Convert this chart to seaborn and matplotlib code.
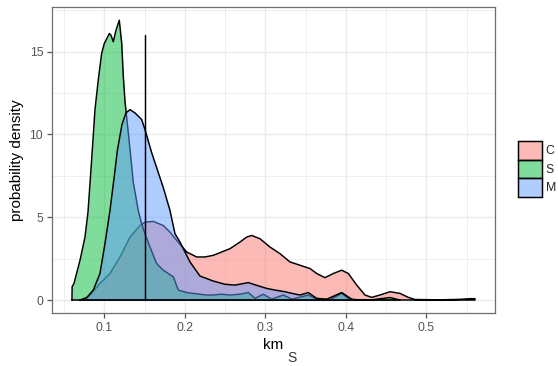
import matplotlib
matplotlib.use("Agg")
import matplotlib.pyplot as plt
from matplotlib.colors import to_rgba
from matplotlib.patches import Patch
import pandas as pd
import seaborn as sns

# Density curves (km vs probability density) per group
groups = ["C", "S", "M"]

c_km = [0.0758, 0.082, 0.0944, 0.1068, 0.1193, 0.1317, 0.1441, 0.1503, 0.1606, 0.173,
        0.1814, 0.1897, 0.2021, 0.2145, 0.2248, 0.2352, 0.2559, 0.2683, 0.2766, 0.2829,
        0.2932, 0.3056, 0.318, 0.3304, 0.3429, 0.3553, 0.3636, 0.3739, 0.3842, 0.3947,
        0.4029, 0.4133, 0.4236, 0.4319, 0.4422, 0.4547, 0.467, 0.4774, 0.4857, 0.5168,
        0.5416, 0.554, 0.5602, 0.5602]
c_density = [0, 0.3, 1.0, 1.6, 2.6, 3.8, 4.5, 4.7, 4.75, 4.5,
             4.1, 3.6, 2.9, 2.6, 2.6, 2.7, 3.1, 3.5, 3.8, 3.9,
             3.7, 3.2, 2.8, 2.3, 2.1, 1.9, 1.6, 1.35, 1.6, 1.8,
             1.6, 0.9, 0.3, 0.16, 0.3, 0.5, 0.4, 0.16, 0.03, 0.01,
             0.04, 0.08, 0.08, 0]

s_km = [0.0596, 0.0598, 0.0621, 0.0696, 0.0758, 0.0795, 0.0841, 0.0882, 0.0923, 0.0965,
        0.0998, 0.1030, 0.106, 0.108, 0.111, 0.1143, 0.1184, 0.1214, 0.1234, 0.1255,
        0.1317, 0.1358, 0.142, 0.1462, 0.1503, 0.1565, 0.1648, 0.173, 0.1855, 0.1917,
        0.2021, 0.210, 0.2186, 0.227, 0.2348, 0.245, 0.2559, 0.2683, 0.2786, 0.287,
        0.2973, 0.3077, 0.3221, 0.333, 0.3532, 0.3636, 0.380, 0.3947, 0.405, 0.43,
        0.4547, 0.467]
s_density = [0, 0.8, 1.0, 2.4, 3.8, 5.3, 8.5, 11.5, 13.3, 14.9,
             15.5, 15.8, 16.1, 16.0, 15.6, 16.3, 16.9, 15.5, 13.5, 12.0,
             9.1, 7.1, 5.4, 4.6, 4.0, 3.2, 2.2, 1.8, 1.4, 0.6,
             0.45, 0.4, 0.35, 0.3, 0.3, 0.35, 0.3, 0.35, 0.45, 0.1,
             0.35, 0.05, 0.3, 0.05, 0.3, 0.05, 0.02, 0.4, 0.02, 0,
             0.15, 0]

m_km = [0.0696, 0.0780, 0.0861, 0.0944, 0.1006, 0.1068, 0.113, 0.1159, 0.1217, 0.1267,
        0.1317, 0.1379, 0.1462, 0.1503, 0.1586, 0.1668, 0.173, 0.1814, 0.1876, 0.1938,
        0.2062, 0.2186, 0.2348, 0.2497, 0.2621, 0.2786, 0.2882, 0.3015, 0.3118, 0.3242,
        0.333, 0.3429, 0.3532, 0.3636, 0.376, 0.3947, 0.4071, 0.4174]
m_density = [0, 0.15, 0.6, 1.6, 3.4, 5.4, 7.8, 9.0, 10.6, 11.3,
             11.5, 11.3, 10.9, 10.3, 8.9, 7.7, 6.8, 5.4, 4.0, 3.5,
             2.3, 1.45, 1.15, 0.95, 0.9, 1.05, 0.9, 0.7, 0.6, 0.5,
             0.4, 0.3, 0.45, 0.1, 0.05, 0.45, 0.05, 0]

marker_km = 0.15
marker_top = 16

x_ticks = [0.1, 0.2, 0.3, 0.4, 0.5]
x_minor = [0.05, 0.15, 0.25, 0.35, 0.45, 0.55]
y_ticks = [0, 5, 10, 15]
y_minor = [2.5, 7.5, 12.5, 17.5]

palette = {"C": "#F8766D", "S": "#00BA38", "M": "#619CFF"}

curves = {"C": (c_km, c_density), "S": (s_km, s_density), "M": (m_km, m_density)}
frames = []
for g in groups:
    xs, ys = curves[g]
    frames.append(pd.DataFrame({"km": xs, "density": ys, "group": g}))
df = pd.concat(frames, ignore_index=True)

sns.set_theme(style="white")
plt.rcParams["font.family"] = ["Liberation Sans", "DejaVu Sans"]

fig = plt.figure(figsize=(5.58, 3.66), dpi=100)
ax = fig.add_axes([52 / 558, 1 - 313 / 366, (495 - 52) / 558, (313 - 7) / 366])

lw = 1.07
for i, g in enumerate(groups):
    sub = df[df["group"] == g]
    xs = list(sub["km"])
    ys = list(sub["density"])
    ax.fill_between(xs, ys, 0, color=palette[g], alpha=0.5, lw=0, zorder=2 + i * 0.1)
    outline = pd.DataFrame({"km": xs + [xs[0]], "density": ys + [ys[0]]})
    sns.lineplot(data=outline, x="km", y="density", sort=False, estimator=None,
                 color="black", lw=lw, zorder=2.05 + i * 0.1, ax=ax)

ax.plot([marker_km, marker_km], [0, marker_top], color="black", lw=lw, zorder=3)

ax.set_xlim(0.0348, 0.5851)
ax.set_ylim(-0.785, 17.7)
ax.set_xticks(x_ticks)
ax.set_xticklabels([f"{v:.1f}" for v in x_ticks])
ax.set_xticks(x_minor, minor=True)
ax.set_yticks(y_ticks)
ax.set_yticklabels([str(v) for v in y_ticks])
ax.set_yticks(y_minor, minor=True)

ax.set_axisbelow(True)
ax.grid(which="major", color="#ebebeb", lw=1.07)
ax.grid(which="minor", color="#ebebeb", lw=0.55)
ax.tick_params(which="major", length=3.8, width=0.9, color="#555555",
               labelsize=8.8, labelcolor="#555555", pad=2.5,
               bottom=True, left=True)
ax.tick_params(which="minor", length=0)
for sp in ax.spines.values():
    sp.set_color("#6e6e6e")
    sp.set_linewidth(0.9)

ax.set_xlabel("km", fontsize=11, color="black", labelpad=3)
ax.set_ylabel("probability density", fontsize=11, color="black", labelpad=4)
fig.text(292 / 558, 1 - 365 / 366, "S", ha="center", va="bottom", fontsize=10, color="#333333")

handles = [Patch(facecolor=to_rgba(palette[g], 0.5), edgecolor="black", linewidth=lw)
           for g in groups]
fig.legend(handles, groups, loc="center left", bbox_to_anchor=(518 / 558, 1 - 169 / 366),
           frameon=False, fontsize=8.8, handlelength=1.96, handleheight=1.96,
           labelspacing=0, borderpad=0, borderaxespad=0, handletextpad=0.3)

fig.savefig("out.png", dpi=100)
